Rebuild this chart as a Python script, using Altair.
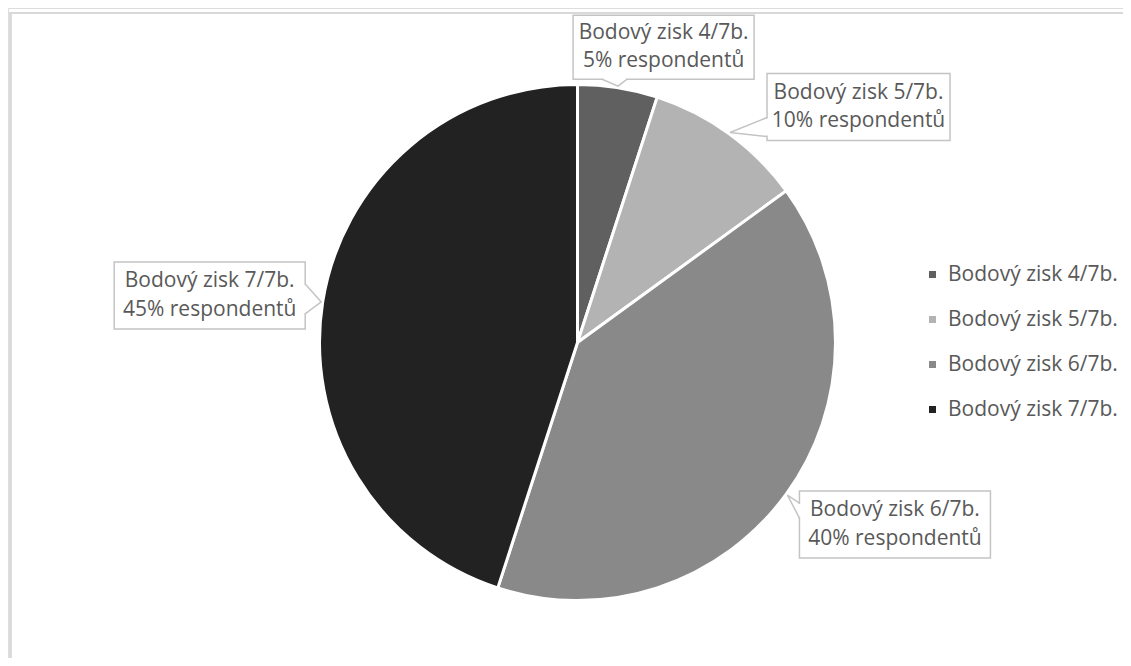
import math
import altair as alt
import pandas as pd

# ---- data ----
categories = ["Bodový zisk 4/7b.", "Bodový zisk 5/7b.", "Bodový zisk 6/7b.", "Bodový zisk 7/7b."]
shares = [5, 10, 40, 45]
label_suffix = "% respondentů"
colors = ["#606060", "#b3b3b3", "#898989", "#222222"]

# ---- layout / style constants ----
W, H = 1115, 650
CX, CY = 569.5, 334.5
R = 258
TIP_R = 259.5
FONT = "Open Sans"
FS = 21
LH = 28.5
TXT = "#595959"
BOX_STROKE = "#c4c4c4"

# callout box placement relative to the slice's mid-angle tip (style constants)
callout_layout = [
    dict(dx=45.5, dy=-39, w=181, h=64, side="bottom", a=29, b=54),
    dict(dx=128.5, dy=-25.5, w=183, h=67, side="left", a=44, b=63),
    dict(dx=107.5, dy=29.5, w=191, h=67, side="left", a=12, b=27),
    dict(dx=-111.5, dy=-6.5, w=191, h=67, side="right", a=22, b=52),
]

pie_df = pd.DataFrame({"category": categories, "share": shares, "ord": list(range(len(categories)))})

total = sum(shares)
boxes, lines, covers = [], [], []
cum = 0
for i, (cat, s) in enumerate(zip(categories, shares)):
    mid = (cum + s / 2) / total * 2 * math.pi
    cum += s
    tx = CX + TIP_R * math.sin(mid)
    ty = CY - TIP_R * math.cos(mid)
    L = callout_layout[i]
    bx, by = tx + L["dx"], ty + L["dy"]
    left, right = bx - L["w"] / 2, bx + L["w"] / 2
    top, bottom = by - L["h"] / 2, by + L["h"] / 2
    boxes.append(dict(id=i, x=left, x2=right, y=top, y2=bottom, cx=bx, cy=by,
                      text=f"{cat}\n{s}{label_suffix}"))
    if L["side"] == "bottom":
        A = (left + L["a"], bottom); B = (left + L["b"], bottom)
        cA = (A[0] + 1, A[1]); cB = (B[0] - 1, B[1])
    elif L["side"] == "left":
        A = (left, top + L["a"]); B = (left, top + L["b"])
        cA = (A[0], A[1] + 1); cB = (B[0], B[1] - 1)
    else:
        A = (right, top + L["a"]); B = (right, top + L["b"])
        cA = (A[0], A[1] + 1); cB = (B[0], B[1] - 1)
    for seq, p in enumerate([A, (tx, ty), B]):
        lines.append(dict(id=i, seq=seq, x=p[0], y=p[1]))
    covers.append(dict(id=i, x=cA[0], y=cA[1], x2=cB[0], y2=cB[1]))

box_df = pd.DataFrame(boxes)
line_df = pd.DataFrame(lines)
cover_df = pd.DataFrame(covers)

xs = alt.Scale(domain=[0, W], nice=False, zero=False)
ys = alt.Scale(domain=[0, H], nice=False, zero=False, reverse=True)

pie = alt.Chart(pie_df).mark_arc(outerRadius=R, stroke="white", strokeWidth=3).encode(
    theta=alt.Theta("share:Q", stack=True),
    order=alt.Order("ord:Q"),
    color=alt.Color(
        "category:N",
        scale=alt.Scale(domain=categories, range=colors),
        legend=alt.Legend(
            orient="none", legendX=914, legendY=256, title=None,
            symbolType="square", symbolSize=49, symbolStrokeWidth=0,
            labelFont=FONT, labelFontSize=FS, labelColor=TXT, labelLimit=0,
            rowPadding=23, labelOffset=5, padding=0,
        ),
    ),
    x=alt.value(CX),
    y=alt.value(CY),
)

box = alt.Chart(box_df).mark_rect(fill="white", stroke=BOX_STROKE, strokeWidth=1.5).encode(
    x=alt.X("x:Q", scale=xs, axis=None), x2="x2:Q",
    y=alt.Y("y:Q", scale=ys, axis=None), y2="y2:Q",
)

cover = alt.Chart(cover_df).mark_rule(color="white", strokeWidth=3, strokeCap="butt").encode(
    x=alt.X("x:Q", scale=xs, axis=None), x2="x2:Q",
    y=alt.Y("y:Q", scale=ys, axis=None), y2="y2:Q",
)

pointer = alt.Chart(line_df).mark_line(color=BOX_STROKE, strokeWidth=1.5).encode(
    x=alt.X("x:Q", scale=xs, axis=None),
    y=alt.Y("y:Q", scale=ys, axis=None),
    detail="id:N",
    order=alt.Order("seq:Q"),
)

text = alt.Chart(box_df).mark_text(
    font=FONT, fontSize=FS, color=TXT, align="center", baseline="middle",
    lineBreak="\n", lineHeight=LH, dy=-LH / 2,
).encode(
    x=alt.X("cx:Q", scale=xs, axis=None),
    y=alt.Y("cy:Q", scale=ys, axis=None),
    text="text:N",
)

frame_top = alt.Chart(pie_df).mark_rule(color="#d9d9d9", strokeWidth=2).encode(
    x=alt.value(2.5), x2=alt.value(W), y=alt.value(5), y2=alt.value(5)
)
frame_left = alt.Chart(pie_df).mark_rule(color="#d9d9d9", strokeWidth=2).encode(
    x=alt.value(2.5), x2=alt.value(2.5), y=alt.value(4), y2=alt.value(H)
)

chart = alt.layer(frame_top, frame_left, pie, box, cover, pointer, text).properties(
    width=W, height=H, autosize=alt.AutoSizeParams(type="none"), padding=0,
).configure_view(stroke=None).configure(background="white")

chart.save("out.html", embed_options={"renderer": "svg", "actions": False})
